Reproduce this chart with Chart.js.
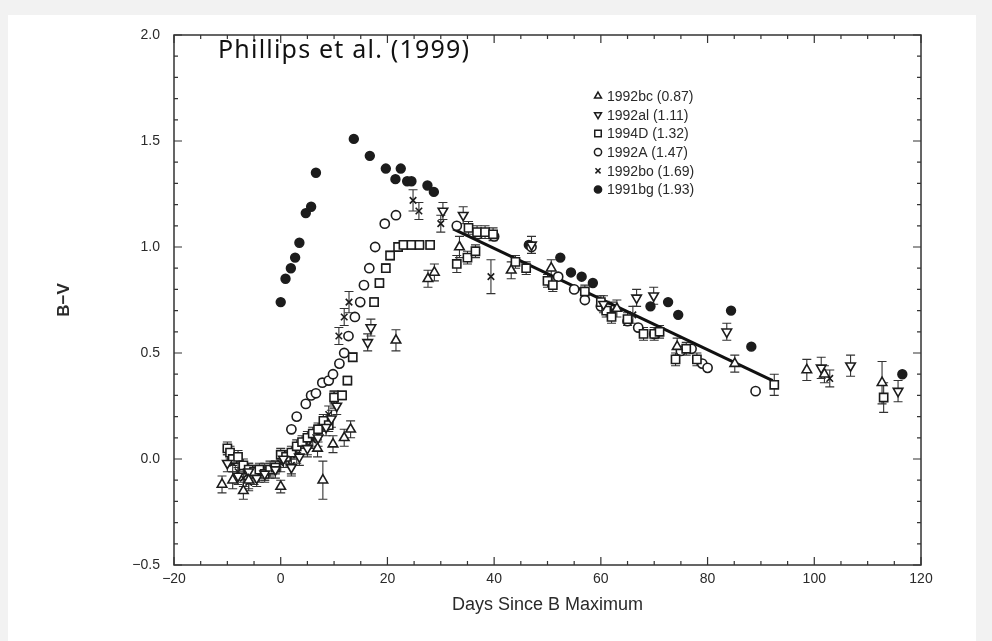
<!DOCTYPE html>
<html>
<head>
<meta charset="utf-8">
<script src="https://cdn.jsdelivr.net/npm/chart.js@4.4.0/dist/chart.umd.min.js"></script>
<style>
  html, body { margin: 0; padding: 0; background: #f2f2f2; }
  #card { position: absolute; left: 8px; top: 15px; width: 968px; height: 626px; background: #fff; }
  canvas { position: absolute; left: 0; top: 0; }
</style>
</head>
<body>
<div id="card"></div>
<canvas id="grafico_bv" width="992" height="641"></canvas>
<script>
// B-V color curves

const bcDays = [-11, -9, -7, -6, 0, 6.9, 7.9, 9.8, 11.9, 13.1, 21.6, 27.6, 28.8, 33.5, 43.2, 50.7, 63, 74.3, 85.1, 98.6, 101.9, 112.7]
const bcBV   = [-0.12, -0.10, -0.15, -0.10, -0.13, 0.05, -0.10, 0.07, 0.10, 0.14, 0.56, 0.85, 0.88, 1.00, 0.89, 0.90, 0.71, 0.53, 0.45, 0.42, 0.40, 0.36]
const bcErr  = [0.04, 0.04, 0.04, 0.04, 0.03, 0.04, 0.09, 0.04, 0.04, 0.04, 0.05, 0.04, 0.04, 0.05, 0.04, 0.04, 0.04, 0.04, 0.04, 0.05, 0.04, 0.10]

const alDays = [-10, -8, -6, -4.5, -3, -1, 0.5, 2, 3.5, 5, 7, 8.5, 9.5, 10.5, 16.3, 16.9, 30.4, 34.2, 47, 60.5, 66.7, 69.9, 83.6, 101.3, 106.8, 115.7]
const alBV   = [-0.02, -0.08, -0.06, -0.09, -0.07, -0.05, 0.00, -0.04, 0.01, 0.05, 0.10, 0.15, 0.19, 0.25, 0.55, 0.62, 1.17, 1.15, 1.01, 0.73, 0.76, 0.77, 0.60, 0.43, 0.44, 0.32]
const alErr  = [0.04, 0.04, 0.04, 0.04, 0.04, 0.04, 0.04, 0.04, 0.04, 0.04, 0.04, 0.04, 0.04, 0.04, 0.04, 0.04, 0.04, 0.04, 0.04, 0.04, 0.04, 0.04, 0.04, 0.05, 0.05, 0.05]

const dDays = [-10, -9.5, -9, -8, -7, -6, -5, -4, -3, -2, -1, 0, 1, 2, 3, 4, 5, 6, 7, 8, 9, 10, 11.5, 12.5, 13.5, 17.5, 18.5, 19.7, 20.5, 22, 23, 24.5, 26, 28, 33, 35, 36.5, 35.2, 36.8, 38.3, 39.8, 44, 46, 50, 51, 57, 60, 61, 62, 65, 68, 70, 71, 74, 76, 78, 92.5, 113]
const dBV   = [0.05, 0.03, 0.00, 0.01, -0.03, -0.05, -0.06, -0.05, -0.07, -0.05, -0.04, 0.02, 0.01, 0.03, 0.06, 0.08, 0.10, 0.12, 0.14, 0.18, 0.16, 0.29, 0.30, 0.37, 0.48, 0.74, 0.83, 0.90, 0.96, 1.00, 1.01, 1.01, 1.01, 1.01, 0.92, 0.95, 0.98, 1.09, 1.07, 1.07, 1.06, 0.93, 0.90, 0.84, 0.82, 0.79, 0.74, 0.70, 0.67, 0.66, 0.59, 0.59, 0.60, 0.47, 0.52, 0.47, 0.35, 0.29]
const dErr  = [0.03, 0.03, 0.03, 0.03, 0.03, 0.03, 0.03, 0.03, 0.03, 0.03, 0.03, 0.03, 0.03, 0.03, 0.03, 0.03, 0.03, 0.03, 0.03, 0.03, 0.03, 0.03, 0.02, 0.02, 0.02, 0.02, 0.02, 0.02, 0.02, 0.02, 0.02, 0.02, 0.02, 0.02, 0.04, 0.03, 0.03, 0.03, 0.03, 0.03, 0.03, 0.03, 0.03, 0.03, 0.03, 0.03, 0.03, 0.03, 0.03, 0.03, 0.03, 0.03, 0.03, 0.03, 0.03, 0.03, 0.05, 0.07]

const aDays = [2, 3, 4.7, 5.7, 6.6, 7.8, 9, 9.8, 11, 11.9, 12.7, 13.9, 14.9, 15.6, 16.6, 17.7, 19.5, 21.6, 33, 37, 40, 47, 52, 55, 57, 60, 65, 67, 70, 75, 77, 79, 80, 89]
const aBV   = [0.14, 0.20, 0.26, 0.30, 0.31, 0.36, 0.37, 0.40, 0.45, 0.50, 0.58, 0.67, 0.74, 0.82, 0.90, 1.00, 1.11, 1.15, 1.10, 1.06, 1.05, 1.00, 0.86, 0.80, 0.75, 0.72, 0.65, 0.62, 0.59, 0.51, 0.52, 0.45, 0.43, 0.32]

const boDays = [-9, -8, -7, -6, -5, -4, -3, -2, 0, 1, 2, 3, 5, 6, 7, 8, 9, 10, 10.9, 11.9, 12.8, 24.8, 25.9, 30, 39.4, 62, 66, 102.9]
const boBV   = [-0.02, -0.06, -0.09, -0.11, -0.08, -0.07, -0.06, -0.05, -0.02, 0.00, -0.03, 0.02, 0.06, 0.09, 0.12, 0.17, 0.21, 0.28, 0.58, 0.67, 0.74, 1.22, 1.17, 1.11, 0.86, 0.70, 0.68, 0.38]
const boErr  = [0.04, 0.04, 0.04, 0.04, 0.04, 0.04, 0.04, 0.04, 0.04, 0.04, 0.04, 0.04, 0.04, 0.04, 0.04, 0.04, 0.04, 0.04, 0.04, 0.04, 0.05, 0.05, 0.04, 0.04, 0.08, 0.04, 0.04, 0.04]

const bgDays = [0, 0.9, 1.9, 2.7, 3.5, 4.7, 5.7, 6.6, 13.7, 16.7, 19.7, 22.5, 21.5, 23.7, 24.5, 27.5, 28.7, 46.5, 52.4, 54.4, 56.4, 58.5, 69.3, 72.6, 74.5, 84.4, 88.2, 116.5]
const bgBV   = [0.74, 0.85, 0.90, 0.95, 1.02, 1.16, 1.19, 1.35, 1.51, 1.43, 1.37, 1.37, 1.32, 1.31, 1.31, 1.29, 1.26, 1.01, 0.95, 0.88, 0.86, 0.83, 0.72, 0.74, 0.68, 0.70, 0.53, 0.40]

const fitDays = [32.3, 92.2]
const fitBV   = [1.085, 0.37]

const xTicks = [-20, 0, 20, 40, 60, 80, 100, 120]
const yTicks = [-0.5, 0.0, 0.5, 1.0, 1.5, 2.0]

const ink = '#1c1c1c'
const pts = (xs, ys) => xs.map((x, i) => ({ x, y: ys[i] }))

function serie(label, xs, ys, errs, style, extra) {
  return Object.assign({
    label,
    data: pts(xs, ys),
    errs,
    pointStyle: style,
    pointRadius: 4,
    pointBorderWidth: 1.6,
    pointBorderColor: ink,
    pointBackgroundColor: '#fff',
    showLine: false
  }, extra || {})
}

const datasets = [
  serie('1992bc (0.87)', bcDays, bcBV, bcErr, 'triangle', { pointRadius: 5.5, legendR: 4 }),
  serie('1992al (1.11)', alDays, alBV, alErr, 'triangle', { pointRadius: 5.5, pointRotation: 180, legendR: 4 }),
  serie('1994D (1.32)', dDays, dBV, dErr, 'rect', { pointRadius: 5.8, legendR: 4.6 }),
  serie('1992A (1.47)', aDays, aBV, null, 'circle', { pointRadius: 4.6, legendR: 3.6 }),
  serie('1992bo (1.69)', boDays, boBV, boErr, 'crossRot', { pointRadius: 4.6, legendR: 3.6 }),
  serie('1991bg (1.93)', bgDays, bgBV, null, 'circle', { pointRadius: 4.4, pointBackgroundColor: ink, legendR: 3.6 }),
  {
    type: 'line',
    label: 'fit',
    data: pts(fitDays, fitBV),
    borderColor: '#111',
    borderWidth: 3,
    pointRadius: 0,
    showLine: true,
    legendSkip: true
  }
]

// error bars, drawn under the markers
const errorBars = {
  id: 'errorBars',
  beforeDatasetsDraw(chart) {
    const { ctx, scales: { x, y } } = chart
    ctx.save()
    ctx.strokeStyle = '#333'
    ctx.lineWidth = 1.1
    chart.data.datasets.forEach(ds => {
      if (!ds.errs) return
      ds.data.forEach((p, i) => {
        const e = ds.errs[i]
        const px = x.getPixelForValue(p.x)
        const y1 = y.getPixelForValue(p.y + e)
        const y2 = y.getPixelForValue(p.y - e)
        ctx.beginPath()
        ctx.moveTo(px, y1); ctx.lineTo(px, y2)
        ctx.moveTo(px - 4.5, y1); ctx.lineTo(px + 4.5, y1)
        ctx.moveTo(px - 4.5, y2); ctx.lineTo(px + 4.5, y2)
        ctx.stroke()
      })
    })
    ctx.restore()
  }
}

// box with inward ticks on all four sides
const frame = {
  id: 'frame',
  afterDatasetsDraw(chart) {
    const { ctx, chartArea: a, scales: { x, y } } = chart
    ctx.save()
    ctx.strokeStyle = '#333'
    ctx.lineWidth = 1.5
    ctx.strokeRect(a.left, a.top, a.right - a.left, a.bottom - a.top)
    ctx.lineWidth = 1.2
    ctx.beginPath()
    for (let v = -20; v <= 120; v += 5) {
      const px = x.getPixelForValue(v)
      const len = v % 20 === 0 ? 8 : 4
      ctx.moveTo(px, a.bottom); ctx.lineTo(px, a.bottom - len)
      ctx.moveTo(px, a.top); ctx.lineTo(px, a.top + len)
    }
    for (let k = -5; k <= 20; k++) {
      const py = y.getPixelForValue(k / 10)
      const len = k % 5 === 0 ? 8 : 4
      ctx.moveTo(a.left, py); ctx.lineTo(a.left + len, py)
      ctx.moveTo(a.right, py); ctx.lineTo(a.right - len, py)
    }
    ctx.stroke()
    ctx.restore()
  },
  afterDraw(chart) {
    const { ctx } = chart
    ctx.save()
    // reference caption
    ctx.fillStyle = '#111'
    ctx.font = '25px "Noto Sans", sans-serif'
    ctx.letterSpacing = '1.2px'
    ctx.textBaseline = 'middle'
    ctx.fillText('Phillips et al. (1999)', 218, 51)
    ctx.letterSpacing = '0px'

    // legend in the upper right of the plot
    ctx.font = '14px "Liberation Sans", Arial, sans-serif'
    let row = 0
    chart.data.datasets.forEach(ds => {
      if (ds.legendSkip) return
      const cy = 96 + row * 18.7
      ctx.fillStyle = ds.pointBackgroundColor
      ctx.strokeStyle = ink
      ctx.lineWidth = 1.5
      Chart.helpers.drawPoint(ctx, {
        pointStyle: ds.pointStyle,
        rotation: ds.pointRotation || 0,
        radius: ds.legendR,
        borderWidth: 1.5
      }, 598, cy)
      ctx.fillStyle = '#2a2a2a'
      ctx.textBaseline = 'middle'
      ctx.fillText(ds.label, 607, cy + 1)
      row++
    })
    ctx.restore()
  }
}

const ctx = document.getElementById('grafico_bv')

const config = {
  type: 'scatter',
  data: { datasets },
  options: {
    responsive: false,
    animation: false,
    layout: { padding: { left: 0, top: 35, right: 71, bottom: 0 } },
    plugins: {
      legend: { display: false },
      tooltip: { enabled: false }
    },
    scales: {
      x: {
        type: 'linear',
        min: -20,
        max: 120,
        afterBuildTicks: s => { s.ticks = xTicks.map(v => ({ value: v })) },
        afterFit: s => { s.height = 76 },
        grid: { display: false, drawTicks: false },
        border: { display: false },
        ticks: {
          padding: 6,
          color: '#2a2a2a',
          font: { family: '"Liberation Sans", Arial, sans-serif', size: 14 },
          callback: v => (v < 0 ? '\u2212' : '') + Math.abs(v)
        },
        title: {
          display: true,
          text: 'Days Since B Maximum',
          color: '#2a2a2a',
          font: { family: '"Liberation Sans", Arial, sans-serif', size: 18 },
          padding: { top: 0, bottom: 25 }
        }
      },
      y: {
        type: 'linear',
        min: -0.5,
        max: 2.0,
        afterBuildTicks: s => { s.ticks = yTicks.map(v => ({ value: v })) },
        afterFit: s => { s.width = 174 },
        grid: { display: false, drawTicks: false },
        border: { display: false },
        ticks: {
          padding: 14,
          color: '#2a2a2a',
          font: { family: '"Liberation Sans", Arial, sans-serif', size: 14 },
          callback: v => (v < 0 ? '\u2212' : '') + Math.abs(v).toFixed(1)
        },
        title: {
          display: true,
          text: 'B\u2212V',
          color: '#2a2a2a',
          font: { family: '"Liberation Sans", Arial, sans-serif', size: 17, weight: 'bold' },
          padding: { top: 54, bottom: 0 }
        }
      }
    }
  },
  plugins: [errorBars, frame]
}

const graph = new Chart(ctx, config)
</script>
</body>
</html>
